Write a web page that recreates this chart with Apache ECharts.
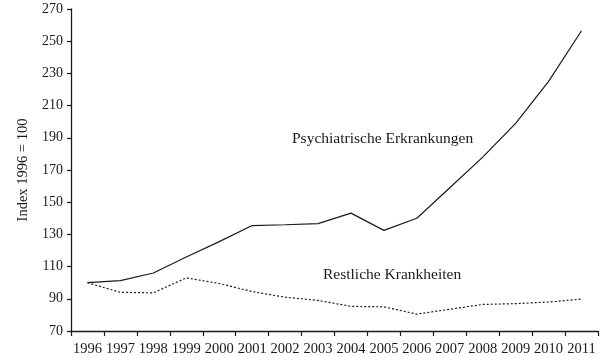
<!DOCTYPE html>
<html>
<head>
<meta charset="utf-8">
<script src="https://cdn.jsdelivr.net/npm/echarts@6/dist/echarts.min.js"></script>
<style>
html,body{margin:0;padding:0;background:#fff;}
#c{width:600px;height:357px;}
</style>
</head>
<body>
<div id="c"></div>
<script>
var years = ['1996','1997','1998','1999','2000','2001','2002','2003','2004','2005','2006','2007','2008','2009','2010','2011'];
var psychiatrische = [100, 101.3, 106, 116, 125.5, 135.5, 136, 136.7, 143.2, 132.5, 140, 159, 178, 199, 225, 256.5];
var restliche = [100, 94, 93.7, 103, 99.5, 94.5, 91, 89, 85.3, 85, 80.5, 83.5, 86.5, 87, 88, 89.8];
var yTicks = [70, 90, 110, 130, 150, 170, 190, 210, 230, 250, 270];
var seriesNames = ['Psychiatrische Erkrankungen', 'Restliche Krankheiten'];
var yAxisTitle = 'Index 1996 = 100';

var FONT = '"Liberation Serif", "DejaVu Serif", serif';
var INK = '#1a1a1a';

var chart = echarts.init(document.getElementById('c'), null, {renderer: 'canvas'});
chart.setOption({
  animation: false,
  backgroundColor: '#fff',
  grid: {left: 71, right: 2, top: 9, bottom: 26},
  xAxis: {
    type: 'category',
    data: years,
    boundaryGap: true,
    axisLine: {lineStyle: {color: INK, width: 1.3}},
    axisTick: {show: true, length: 5, alignWithLabel: false, lineStyle: {color: INK, width: 1.2}},
    axisLabel: {color: INK, fontFamily: FONT, fontSize: 14.5, margin: 11, interval: 0},
    splitLine: {show: false}
  },
  yAxis: {
    type: 'value',
    min: yTicks[0],
    max: yTicks[yTicks.length - 1],
    interval: 20,
    name: yAxisTitle,
    nameLocation: 'middle',
    nameGap: 40,
    nameTextStyle: {color: INK, fontFamily: FONT, fontSize: 14.5},
    axisLine: {show: true, lineStyle: {color: INK, width: 1.3}},
    axisTick: {show: true, length: 4, lineStyle: {color: INK, width: 1.2}},
    axisLabel: {color: INK, fontFamily: FONT, fontSize: 14, margin: 8},
    splitLine: {show: false}
  },
  series: [
    {
      name: seriesNames[0],
      type: 'line',
      data: psychiatrische,
      symbol: 'none',
      lineStyle: {color: INK, width: 1.2, type: 'solid'}
    },
    {
      name: seriesNames[1],
      type: 'line',
      data: restliche,
      symbol: 'none',
      lineStyle: {color: INK, width: 1.2, type: [2, 2]}
    }
  ],
  graphic: [
    {
      type: 'text', left: 292, top: 131,
      style: {text: seriesNames[0], fill: INK, font: '15.5px ' + FONT}
    },
    {
      type: 'text', left: 323, top: 267,
      style: {text: seriesNames[1], fill: INK, font: '15.5px ' + FONT}
    }
  ]
});
</script>
</body>
</html>
